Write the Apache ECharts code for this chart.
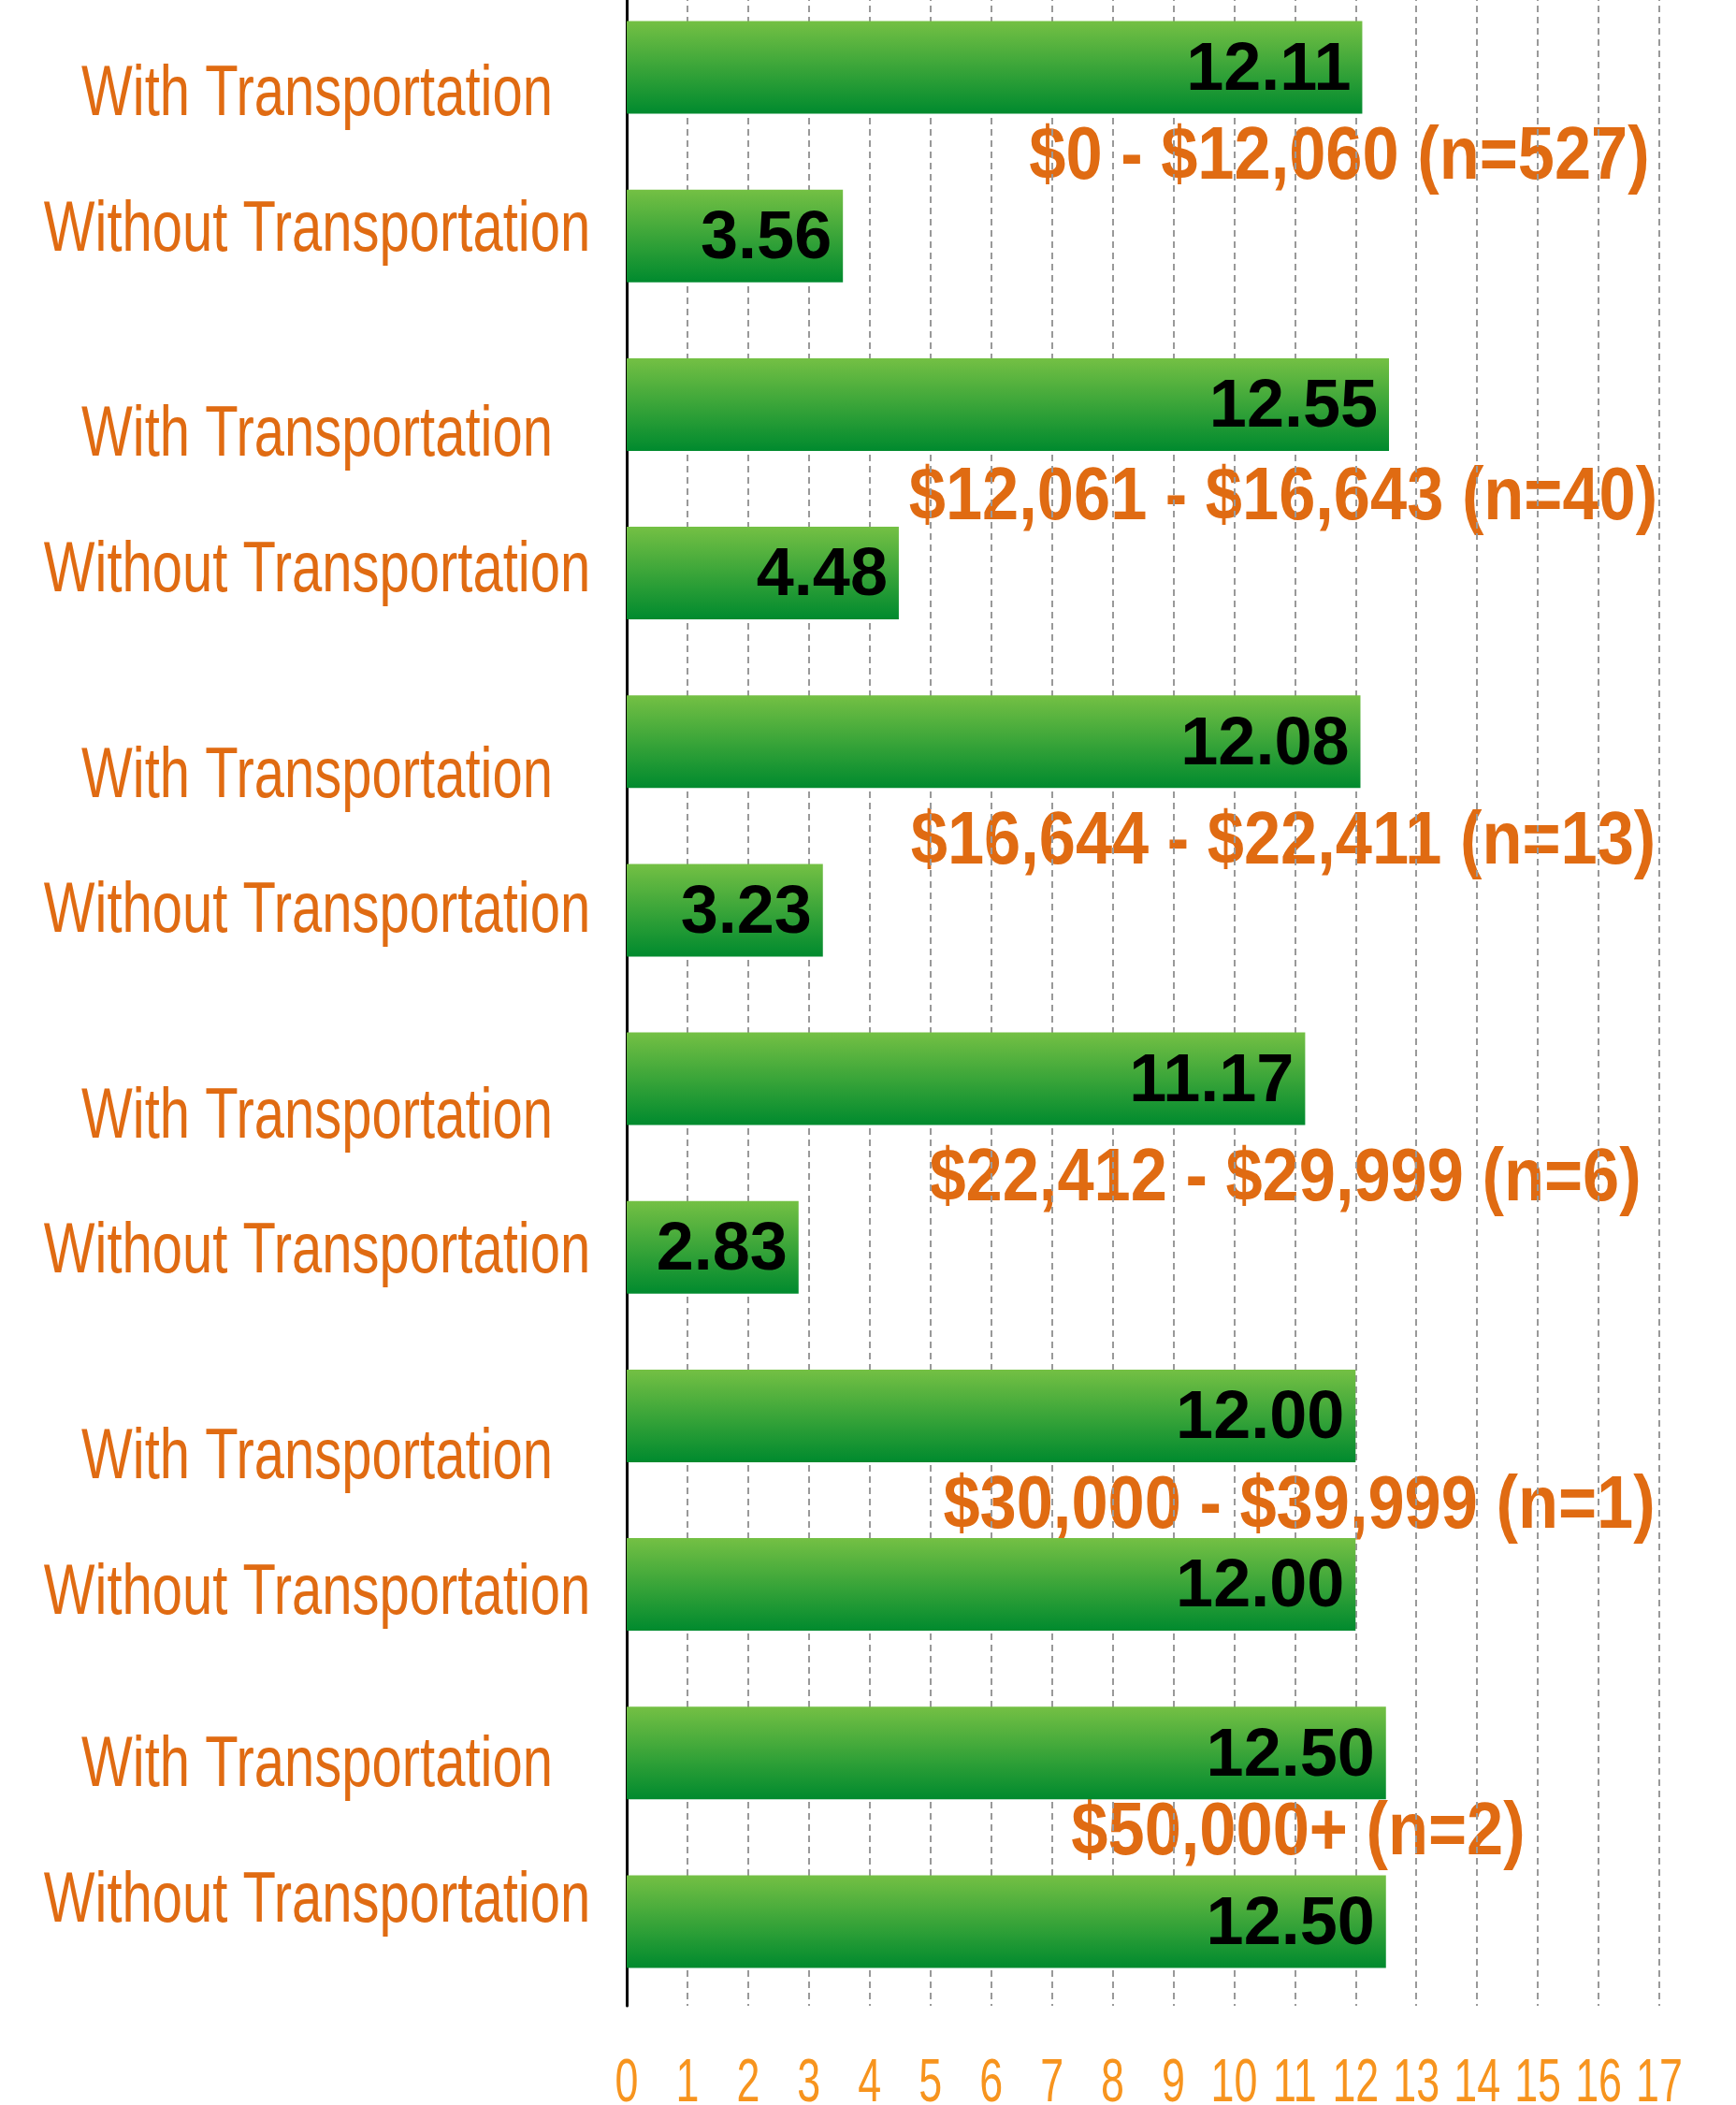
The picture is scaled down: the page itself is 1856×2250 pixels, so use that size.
<!DOCTYPE html>
<html>
<head>
<meta charset="utf-8">
<script src="https://cdn.jsdelivr.net/npm/echarts@6/dist/echarts.min.js"></script>
<style>
  body { margin: 0; background: #fff; }
  #main { width: 1856px; height: 2250px; }
</style>
</head>
<body>
<div id="main"></div>
<script>
  // data
  var categories = [
    'With Transportation', 'Without Transportation',
    'With Transportation', 'Without Transportation',
    'With Transportation', 'Without Transportation',
    'With Transportation', 'Without Transportation',
    'With Transportation', 'Without Transportation',
    'With Transportation', 'Without Transportation'
  ];
  var values = [12.11, 3.56, 12.55, 4.48, 12.08, 3.23, 11.17, 2.83, 12.00, 12.00, 12.50, 12.50];
  var groups = [
    '$0 - $12,060 (n=527)',
    '$12,061 - $16,643 (n=40)',
    '$16,644 - $22,411 (n=13)',
    '$22,412 - $29,999 (n=6)',
    '$30,000 - $39,999 (n=1)',
    '$50,000+ (n=2)'
  ];
  var xTicks = [0, 1, 2, 3, 4, 5, 6, 7, 8, 9, 10, 11, 12, 13, 14, 15, 16, 17];

  // label placement tweaks (px)
  var catLabelX = 339;
  var catLabelDy = [30, -5, 34, -2, 38, 2, 42, 6, 46, 10, 14, -21];
  var groupLabelX = [1432, 1372, 1372, 1374, 1389, 1388];
  var groupLabelDy = [7, 10, 18, 18, 7, -4];

  var orange = '#E06B12';
  var tickOrange = '#F7941E';
  var sans = '"Liberation Sans", Arial, sans-serif';

  var chart = echarts.init(document.getElementById('main'));

  var option = {
    animation: false,
    grid: { left: 670, right: 82, top: -18, bottom: 106, containLabel: false, outerBoundsMode: 'none' },
    xAxis: {
      type: 'value',
      min: 0,
      max: 17,
      interval: 1,
      axisLine: { show: false },
      axisTick: { show: false },
      axisLabel: { show: false },
      splitLine: {
        show: true,
        lineStyle: { color: '#999', width: 2, type: [7, 5] }
      }
    },
    yAxis: [
      {
        type: 'category',
        inverse: true,
        data: categories,
        axisLine: { show: true, lineStyle: { color: '#000', width: 3 } },
        axisTick: { show: false },
        axisLabel: { show: false }
      },
      {
        type: 'category',
        inverse: true,
        data: groups,
        show: false
      }
    ],
    series: [
      {
        type: 'bar',
        yAxisIndex: 0,
        data: values,
        barWidth: 99,
        itemStyle: {
          color: new echarts.graphic.LinearGradient(0, 0, 0, 1, [
            { offset: 0, color: '#74C044' },
            { offset: 1, color: '#008A2E' }
          ])
        },
        label: {
          show: true,
          position: 'insideRight',
          distance: 12,
          offset: [0, 4],
          color: '#000',
          fontFamily: sans,
          fontWeight: 'bold',
          fontSize: 72,
          formatter: function (p) { return p.value.toFixed(2); }
        }
      },
      // category labels (condensed look via scaleX)
      {
        type: 'custom',
        yAxisIndex: 0,
        clip: false,
        silent: true,
        data: categories.map(function (c, i) { return [0, i]; }),
        renderItem: function (params, api) {
          var i = params.dataIndex;
          var p = api.coord([0, api.value(1)]);
          return {
            type: 'text',
            x: catLabelX,
            y: p[1] + catLabelDy[i],
            scaleX: 0.763,
            style: {
              text: categories[i],
              fill: orange,
              fontFamily: sans,
              fontSize: 76,
              align: 'center',
              verticalAlign: 'middle'
            }
          };
        }
      },
      // income group captions
      {
        type: 'custom',
        yAxisIndex: 1,
        clip: false,
        silent: true,
        z: -1,
        data: groups.map(function (g, i) { return [0, i]; }),
        renderItem: function (params, api) {
          var i = params.dataIndex;
          var p = api.coord([0, api.value(1)]);
          return {
            type: 'text',
            x: groupLabelX[i],
            y: p[1] + groupLabelDy[i],
            scaleX: 0.88,
            style: {
              text: groups[i],
              fill: orange,
              fontFamily: sans,
              fontWeight: 'bold',
              fontSize: 80,
              align: 'center',
              verticalAlign: 'middle'
            }
          };
        }
      },
      // x tick labels
      {
        type: 'custom',
        yAxisIndex: 0,
        clip: false,
        silent: true,
        data: xTicks.map(function (v) { return [v, 0]; }),
        renderItem: function (params, api) {
          var p = api.coord([api.value(0), 0]);
          var cs = params.coordSys;
          return {
            type: 'text',
            x: p[0],
            y: cs.y + cs.height + 84,
            scaleX: 0.7,
            style: {
              text: String(xTicks[params.dataIndex]),
              fill: tickOrange,
              fontFamily: sans,
              fontSize: 64,
              align: 'center',
              verticalAlign: 'middle'
            }
          };
        }
      }
    ]
  };

  chart.setOption(option);
</script>
</body>
</html>
